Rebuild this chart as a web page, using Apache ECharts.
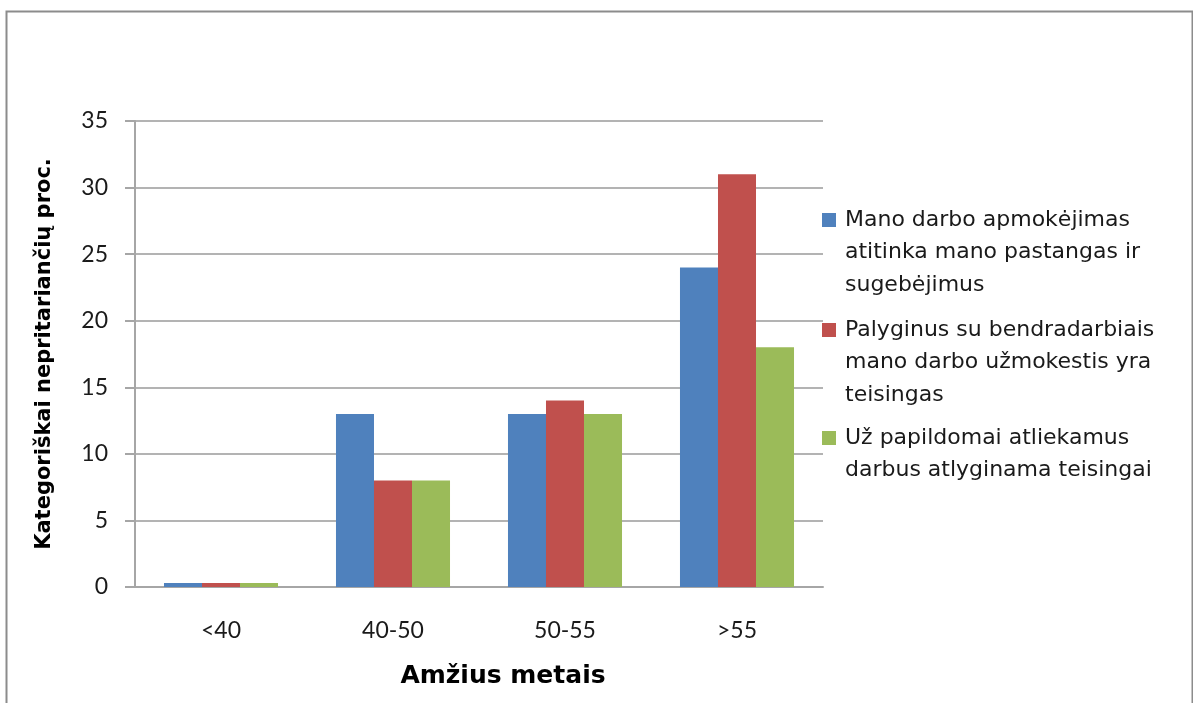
<!DOCTYPE html>
<html>
<head>
<meta charset="utf-8">
<script src="https://cdn.jsdelivr.net/npm/echarts@6/dist/echarts.min.js"></script>
<style>
  html, body { margin: 0; padding: 0; background: #fff; }
  #chart { width: 1193px; height: 703px; }
</style>
</head>
<body>
<div id="chart"></div>
<script>
// Age groups and the share of respondents who strongly disagree (%)
const categories = ['<40', '40-50', '50-55', '>55'];
const seriesNames = [
  'Mano darbo apmokėjimas\natitinka mano pastangas ir\nsugebėjimus',
  'Palyginus su bendradarbiais\nmano darbo užmokestis yra\nteisingas',
  'Už papildomai atliekamus\ndarbus atlyginama teisingai'
];
const payMatchesEffort = [0.3, 13, 13, 24];
const fairVsColleagues = [0.3, 8, 14, 31];
const extraWorkPaidFairly = [0.3, 8, 13, 18];
const yTicks = { min: 0, max: 35, interval: 5 };

const colors = ['#4F81BD', '#C0504D', '#9BBB59'];
const values = [payMatchesEffort, fairVsColleagues, extraWorkPaidFairly];
const lineCounts = [3, 3, 2];
const swatchTops = [213, 323, 431];

const TICK_FONT = 'Lato, "Open Sans", sans-serif';
const TEXT_FONT = '"DejaVu Sans", "Open Sans", sans-serif';
const LINE_H = 32.5;
const SWATCH = 14;

// One legend per series so the swatch sits beside the first text line
const legends = seriesNames.map((name, i) => {
  const h = lineCounts[i] * LINE_H - LINE_H + SWATCH;
  const overhang = (lineCounts[i] * LINE_H - h) / 2; // text rising above the swatch
  return {
    left: 817,
    top: swatchTops[i] - 5 - overhang,
    orient: 'vertical',
    itemWidth: 18,
    itemHeight: h,
    selectedMode: false,
    data: [{
      name: name,
      icon: 'path://M0,0L14,0L14,14L0,14Z M18,' + h + 'L18,' + h
    }],
    textStyle: {
      fontFamily: TEXT_FONT,
      fontSize: 22,
      lineHeight: LINE_H,
      color: '#1a1a1a'
    }
  };
});

const chart = echarts.init(document.getElementById('chart'), null, { renderer: 'canvas' });
chart.setOption({
  backgroundColor: '#ffffff',
  animation: false,
  grid: { left: 135, right: 370, top: 121, bottom: 116, outerBoundsMode: 'none' },
  legend: legends,
  xAxis: {
    type: 'category',
    data: categories,
    axisLine: { lineStyle: { color: '#a6a6a6', width: 2 } },
    axisTick: { show: false },
    axisLabel: { fontFamily: TICK_FONT, fontSize: 23, color: '#1a1a1a', margin: 32 },
    name: 'Amžius metais',
    nameLocation: 'middle',
    nameGap: 77,
    nameTextStyle: {
      fontFamily: TEXT_FONT, fontSize: 25, fontWeight: 'bold', color: '#000',
      padding: [0, 0, 0, 48]
    }
  },
  yAxis: {
    type: 'value',
    min: yTicks.min,
    max: yTicks.max,
    interval: yTicks.interval,
    axisLine: { show: true, lineStyle: { color: '#a6a6a6', width: 2 } },
    axisTick: { show: true, length: 10, lineStyle: { color: '#a6a6a6', width: 2 } },
    splitLine: { lineStyle: { color: '#b3b3b3', width: 2 } },
    axisLabel: { fontFamily: TICK_FONT, fontSize: 23, color: '#1a1a1a', margin: 27 },
    name: 'Kategoriškai nepritariančių proc.',
    nameLocation: 'middle',
    nameGap: 80,
    nameTextStyle: { fontFamily: TEXT_FONT, fontSize: 21, fontWeight: 'bold', color: '#000' }
  },
  series: seriesNames.map((name, i) => ({
    name: name,
    type: 'bar',
    data: values[i],
    barGap: '0%',
    barCategoryGap: '33.7%',
    itemStyle: { color: colors[i] }
  })),
  graphic: [{
    type: 'rect',
    left: 4, top: 9,
    shape: { x: 0, y: 0, width: 1186, height: 705 },
    style: { fill: 'none', stroke: '#8c8c8c', lineWidth: 2 },
    silent: true,
    z: -1
  }]
});
</script>
</body>
</html>
